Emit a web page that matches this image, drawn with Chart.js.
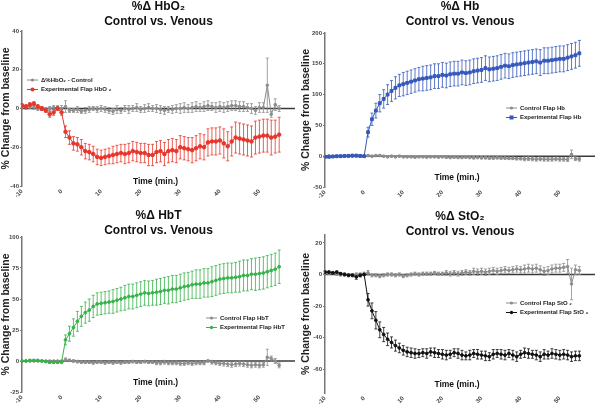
<!DOCTYPE html>
<html>
<head>
<meta charset="utf-8">
<script src="https://cdn.jsdelivr.net/npm/chart.js@4.4.1/dist/chart.umd.min.js"></script>
<style>
  html, body { margin: 0; padding: 0; background: #fff; }
  .wrap { position: relative; width: 600px; height: 409px; }
  .panel { position: absolute; width: 300px; }
</style>
</head>
<body>
<div class="wrap">
  <div class="panel" style="left:0;top:0;height:205px"><canvas id="hbo2"></canvas></div>
  <div class="panel" style="left:300px;top:0;height:205px"><canvas id="hb"></canvas></div>
  <div class="panel" style="left:0;top:205px;height:204px"><canvas id="hbt"></canvas></div>
  <div class="panel" style="left:300px;top:205px;height:204px"><canvas id="sto2"></canvas></div>
</div>
<script>
// time points (min.), one per minute
const minutes = [
  -10, -9, -8, -7, -6, -5, -4, -3, -2, -1, 0,
  1, 2, 3, 4, 5, 6, 7, 8, 9, 10,
  11, 12, 13, 14, 15, 16, 17, 18, 19, 20,
  21, 22, 23, 24, 25, 26, 27, 28, 29, 30,
  31, 32, 33, 34, 35, 36, 37, 38, 39, 40,
  41, 42, 43, 44, 45, 46, 47, 48, 49, 50,
  51, 52, 53, 54, 55
];
const xTicks = [-10, 0, 10, 20, 30, 40, 50];
const hbo2YTicks = [-40, -20, 0, 20, 40];
const hbYTicks = [-50, 0, 50, 100, 150, 200];
const hbtYTicks = [-25, 0, 25, 50, 75, 100];
const sto2YTicks = [-60, -40, -20, 0, 20];

// %Δ HbO2
const hbo2Control = [
  1, 0.5, 1, 0.5, 0, 0, -0.5, 0, 0.5, 0.5, 0,
  1, -1, -1, -0.5, -1.5, -1, -0.5, 0, -0.5, 0,
  -0.5, -1, -1.5, -0.5, -1, 0, -0.5, 0, 0.5, -0.5,
  0, 0.5, 0, 0, -0.5, -1, -0.5, -0.5, 0, 0,
  0.5, 0, 0.5, 1, 0.5, 1, 1.5, 1, 0.5, 1,
  0.5, 1, 1.5, 1.5, 1, 1, 0.5, 0, -1, 0.5,
  0.5, 12, -3, 2, 0
];
const hbo2ControlErr = [
  1, 1, 1, 1, 1, 1, 1, 1, 1, 1, 1.5,
  3, 1, 1, 1.5, 1, 1.5, 1.5, 1, 1.5, 1.5,
  1.5, 1.5, 1.5, 2, 1.5, 1.5, 2, 1.5, 2, 1.5,
  2, 2, 1.5, 2, 2, 2, 1.5, 2, 2, 2.5,
  2.5, 2, 2.5, 2.5, 2, 2.5, 2.5, 2, 2.5, 2.5,
  2.5, 2.5, 2.5, 2.5, 2.5, 2.5, 2, 2.5, 2, 2.5,
  2.5, 14, 1.5, 3, 1.5
];
const hbo2Flap = [
  1.5, 1, 2, 2.5, 1, 0, -1, -3, -2, 0, -2,
  -12, -15, -18, -18.5, -20, -22, -22.5, -23.5, -25, -25.5,
  -25, -24.5, -24, -23.5, -23, -23.5, -23, -22, -22.5, -23,
  -23, -24, -24, -22.5, -22, -23.5, -22, -21.5, -22, -20,
  -20.5, -21, -21.5, -20.5, -19.5, -20, -17.5, -17, -17, -16.5,
  -18, -19.5, -17, -15, -15.5, -16, -16.5, -17, -15, -14.5,
  -14, -14, -15, -14.5, -13.5
];
const hbo2FlapErr = [
  1, 1, 1, 1, 1, 1, 1, 1.5, 1.5, 1, 1.5,
  3, 3.5, 3.5, 3.5, 4, 4, 4, 4, 4, 4,
  4, 4, 4.5, 4.5, 4.5, 5, 5, 5, 5, 5,
  5, 5.5, 5.5, 5.5, 5.5, 6, 6, 6, 6, 6,
  6, 6, 6.5, 6.5, 6.5, 6.5, 7, 7, 7, 7,
  7.5, 7.5, 7.5, 8, 8, 8, 8, 8, 8.5, 8.5,
  8.5, 8.5, 9, 8.5, 9
];

// %Δ Hb
const hbControl = [
  0, 0.5, 0, -0.5, 0, 0, 0.5, 0, 0, 0, 0,
  1, 0, 1, 1, 0, -1, 0, -1, 0, -1,
  -1, -1, -1.5, -1, -1, -1.5, -1, -1, -1.5, -1,
  -1.5, -2, -1.5, -2, -2, -1.5, -2, -2.5, -2, -2.5,
  -2.5, -3, -3, -2.5, -3, -3, -3.5, -3.5, -4, -4,
  -4.5, -4, -4.5, -5, -4.5, -5, -5, -5, -4.5, -5,
  -5, -5.5, 3, -4, -5
];
const hbControlErr = [
  1, 1, 1, 1, 1, 1, 1, 1, 1, 1, 1,
  1.5, 1.5, 1.5, 1.5, 1.5, 1.5, 1.5, 1.5, 1.5, 1.5,
  1.5, 1.5, 1.5, 1.5, 1.5, 1.5, 1.5, 1.5, 1.5, 1.5,
  2, 2, 2, 2, 2, 2, 2, 2, 2, 2,
  2, 2, 2, 2, 2, 2, 2, 2, 2, 2,
  3, 3, 3, 3, 3, 3, 3, 3, 3, 3,
  3, 3, 7, 3, 3
];
const hbFlap = [
  -1, -1, -0.5, 0, 0, 0.5, 0.5, 1, 1, 0.5, 0,
  39, 60, 74, 86, 93, 100, 106, 111, 115, 117,
  119, 121, 123, 125, 126, 127, 128, 130, 130, 132,
  131, 133, 134, 134, 136, 135, 136, 138, 139, 140,
  143, 141, 142, 143, 145, 147, 146, 148, 149, 150,
  151, 152, 153, 154, 152, 155, 155, 156, 157, 158,
  158, 160, 162, 164, 167
];
const hbFlapErr = [
  1, 1, 1, 1, 1, 1, 1, 1, 1, 1, 1,
  8, 10, 12, 14, 15, 16, 17, 18, 18, 19,
  19, 19, 19, 19, 20, 20, 20, 20, 20, 20,
  20, 20, 20, 20, 20, 20, 20, 20, 20, 20,
  20, 20, 20, 20, 20, 20, 20, 20, 20, 20,
  20, 20, 20, 20, 21, 21, 21, 21, 21, 21,
  21, 21, 21, 21, 21
];

// %Δ HbT
const hbtControl = [
  0, 0, 0, 0, 0, 0, 0, 0, 0, 0, 0,
  1, 0.5, 0, -0.5, -1, -1, -1, -1.5, -1, -1,
  -1.5, -1, -1.5, -1, -1.5, -1, -1, -0.5, -1, -1,
  -0.5, -1, -1, -1.5, -1.5, -1, -1.5, -1.5, -1.5, -2,
  -2, -1.5, -2, -1.5, -1.5, -1.5, 0, -1, -1.5, -2,
  -2, -2.5, -3, -2.5, -2, -2.5, -3, -3.5, -3, -3.5,
  -3, 3, 2, 0, -3.5
];
const hbtControlErr = [
  0.5, 0.5, 0.5, 0.5, 0.5, 0.5, 0.5, 0.5, 0.5, 0.5, 0.5,
  1.5, 1, 1, 1, 1, 1, 1, 1, 1, 1,
  1, 1, 1, 1, 1, 1, 1, 1, 1, 1,
  1, 1, 1, 1.5, 1.5, 1.5, 1.5, 1.5, 1.5, 1.5,
  1.5, 1.5, 1.5, 1.5, 1.5, 1.5, 1, 1.5, 1.5, 1.5,
  2, 2, 2, 2, 2, 2, 2, 2, 2, 2,
  2, 6.5, 2, 2, 2
];
const hbtFlap = [
  0, 0, 0.5, 0.5, 0.5, 0, -0.5, -1, -1, -1, -1,
  17, 22, 27, 32, 36, 39, 41, 44, 46, 46.5,
  47, 47.5, 48, 49, 50, 51, 52, 52, 53, 54,
  55, 54.5, 55, 55.5, 56, 57, 57, 58, 58, 59,
  60, 60.5, 61.5, 62, 62, 63, 63, 64, 65, 66,
  66.5, 67, 67, 67.5, 68, 69, 69, 70, 70, 70.5,
  71, 72, 73, 74, 76
];
const hbtFlapErr = [
  0.5, 0.5, 0.5, 0.5, 0.5, 0.5, 0.5, 1, 1, 1, 0.5,
  4, 6, 7, 8, 8, 8.5, 9, 9, 9, 9,
  9, 9, 9.5, 9.5, 9.5, 10, 10, 10, 10, 10,
  10, 10, 10, 10.5, 10.5, 10.5, 11, 11, 11, 11,
  11, 11, 11, 11.5, 11.5, 11.5, 11.5, 12, 12, 12,
  12, 12, 12, 12, 12.5, 12.5, 12.5, 12.5, 13, 13,
  13, 13, 13, 13, 13.5
];

// %Δ StO2
const sto2Control = [
  1, 1, 1, 0.5, 0, 0, -0.5, -0.5, 0, 0, 0.5,
  1, -0.5, -0.5, -1, -0.5, 0, 0, -0.5, 0, -1,
  -0.5, 0, 0.5, 0, 0.5, 0.5, 0.5, 1, 0.5, 0.5,
  1, 0.5, 1, 0.5, 1, 1.5, 1, 2, 1.5, 2,
  1.5, 2, 2.5, 2, 2.5, 3, 2.5, 3, 3.5, 3,
  3.5, 4, 3.5, 4, 3, 2, 2.5, 3.5, 4, 4,
  4.5, 5, -6, 3, 2.5
];
const sto2ControlErr = [
  1, 1, 1, 1, 1, 1, 1, 1, 1, 1, 1,
  1.5, 1, 1, 1, 1, 1, 1, 1, 1, 1,
  1, 1, 1, 1, 1, 1, 1, 1, 1, 1,
  1.5, 1.5, 1.5, 1.5, 1.5, 1.5, 1.5, 2, 2, 2,
  2, 2, 2, 2, 2, 2, 2, 2, 2, 2,
  2.5, 2.5, 2.5, 2.5, 2.5, 2.5, 2.5, 2.5, 2.5, 2.5,
  2.5, 4.5, 10, 3, 2.5
];
const sto2Flap = [
  1.5, 1.5, 1, 1.5, 0.5, 0, -0.5, -0.5, -1.5, -0.5, 0,
  -16, -23, -29, -35, -38, -41, -43, -45, -46.5, -48,
  -49, -49.5, -50, -50, -49.5, -50, -49, -49.5, -50, -50.5,
  -51, -50.5, -49.5, -50, -51, -51.5, -51, -50, -50.5, -51,
  -51.5, -52, -50.5, -50, -50.5, -51, -50, -51, -52, -50.5,
  -49.5, -50, -50.5, -51, -52, -50.5, -51, -50, -50.5, -51,
  -50.5, -51, -52, -51.5, -51.5
];
const sto2FlapErr = [
  0.7, 0.7, 0.7, 0.7, 0.7, 0.7, 0.7, 0.7, 1.5, 1, 0.7,
  4, 5, 5.5, 5, 4.5, 4, 3.5, 3.5, 3, 3,
  3, 3, 3, 2.5, 2.5, 3, 2.5, 3, 2.5, 3,
  3, 2.5, 2.5, 3, 3, 2.5, 3, 2.5, 3, 2.5,
  3, 2.5, 3, 2.5, 3, 3, 2.5, 3, 3, 2.5,
  3, 3, 2.5, 3, 3, 3, 2.5, 3, 3, 3,
  3, 3, 3, 3, 3
];

const FONT = '"Liberation Sans", Arial, sans-serif';
const GREY = "#8c8c8c";

// zero line, error bars, titles and legend
const panelDeco = {
  id: "panelDeco",
  beforeDatasetsDraw(chart) {
    const { ctx, chartArea: a, scales } = chart;
    const y = scales.y;
    const y0 = y.getPixelForValue(0);
    ctx.save();
    ctx.strokeStyle = "#3a3a3a";
    ctx.lineWidth = 1.5;
    ctx.beginPath();
    ctx.moveTo(a.left, y0);
    ctx.lineTo(a.right, y0);
    ctx.stroke();
    chart.data.datasets.forEach((ds, di) => {
      const meta = chart.getDatasetMeta(di);
      ctx.strokeStyle = ds.borderColor;
      ctx.lineWidth = 0.8;
      meta.data.forEach((pt, i) => {
        const v = ds.data[i].y;
        const e = ds.errors[i];
        const yt = y.getPixelForValue(v + e);
        const yb = y.getPixelForValue(v - e);
        ctx.beginPath();
        ctx.moveTo(pt.x, yt);
        ctx.lineTo(pt.x, yb);
        ctx.moveTo(pt.x - 1.5, yt);
        ctx.lineTo(pt.x + 1.5, yt);
        ctx.moveTo(pt.x - 1.5, yb);
        ctx.lineTo(pt.x + 1.5, yb);
        ctx.stroke();
      });
    });
    ctx.restore();
  },
  afterDraw(chart, args, o) {
    const { ctx, chartArea: a } = chart;
    const cx = (a.left + a.right) / 2;
    ctx.save();
    ctx.fillStyle = "#111";
    ctx.textAlign = "center";
    ctx.textBaseline = "middle";
    ctx.font = "bold 12px " + FONT;
    ctx.fillText(o.title, cx, o.titleY);
    ctx.fillText("Control vs. Venous", cx, o.titleY + 15);
    ctx.font = "bold 8.5px " + FONT;
    ctx.fillText("Time (min.)", cx - 3, o.timeY);

    // legend
    ctx.textAlign = "left";
    ctx.font = "bold 6px " + FONT;
    chart.data.datasets.forEach((ds, i) => {
      const ly = o.legendY + i * 9.5;
      ctx.strokeStyle = ds.borderColor;
      ctx.fillStyle = ds.borderColor;
      ctx.lineWidth = 1;
      ctx.beginPath();
      ctx.moveTo(o.legendX, ly);
      ctx.lineTo(o.legendX + 11, ly);
      ctx.stroke();
      ctx.beginPath();
      if (ds.pointStyle === "rect") {
        ctx.fillRect(o.legendX + 3.5, ly - 2, 4, 4);
      } else {
        ctx.arc(o.legendX + 5.5, ly, ds.pointRadius + 0.3, 0, Math.PI * 2);
        ctx.fill();
      }
      ctx.fillStyle = "#222";
      ctx.fillText(ds.label, o.legendX + 14, ly);
    });
    ctx.restore();
  },
};

function fixedTicks(list) {
  return (axis) => {
    axis.ticks = list.map((v) => ({ value: v }));
  };
}

function makePanel(id, p) {
  const pts = (vals) => minutes.map((t, i) => ({ x: t, y: vals[i] }));
  new Chart(document.getElementById(id), {
    type: "line",
    data: {
      datasets: [
        {
          label: p.controlLabel,
          data: pts(p.control),
          errors: p.controlErr,
          borderColor: GREY,
          backgroundColor: GREY,
          borderWidth: 1,
          pointRadius: 1.3,
          pointStyle: "circle",
          order: 2,
        },
        {
          label: p.flapLabel,
          data: pts(p.flap),
          errors: p.flapErr,
          borderColor: p.color,
          backgroundColor: p.color,
          borderWidth: 1,
          pointRadius: p.pointRadius,
          pointStyle: p.pointStyle,
          order: 1,
        },
      ],
    },
    options: {
      responsive: true,
      maintainAspectRatio: false,
      animation: false,
      events: [],
      layout: { padding: { top: p.top, right: 3, left: 0, bottom: 0 } },
      plugins: {
        legend: { display: false },
        tooltip: { enabled: false },
        panelDeco: {
          title: p.title,
          titleY: p.titleY,
          timeY: p.timeY,
          legendX: p.legendX,
          legendY: p.legendY,
        },
      },
      scales: {
        x: {
          type: "linear",
          min: -10,
          max: 59,
          afterBuildTicks: fixedTicks(xTicks),
          afterFit: (s) => {
            s.height = p.xHeight;
          },
          ticks: {
            minRotation: 45,
            maxRotation: 45,
            padding: 2,
            color: "#444",
            font: { family: FONT, size: 6, weight: "bold" },
          },
          grid: { display: false, drawTicks: false },
          border: { display: false },
        },
        y: {
          min: p.yMin,
          max: p.yMax,
          afterBuildTicks: fixedTicks(p.yTicks),
          afterFit: (s) => {
            s.width = p.yWidth;
          },
          ticks: {
            padding: 1,
            color: "#444",
            font: { family: FONT, size: 6, weight: "bold" },
          },
          grid: {
            drawOnChartArea: false,
            tickLength: 2,
            color: "#777",
          },
          border: { color: "#777", width: 1.5 },
          title: {
            display: true,
            text: "% Change from baseline",
            color: "#222",
            padding: 0,
            font: { family: FONT, size: 10.5, weight: "bold" },
          },
        },
      },
    },
    plugins: [panelDeco],
  });
}

makePanel("hbo2", {
  title: "%Δ HbO₂",
  control: hbo2Control, controlErr: hbo2ControlErr,
  flap: hbo2Flap, flapErr: hbo2FlapErr,
  controlLabel: "Δ%HbO₂ - Control",
  flapLabel: "Experimental Flap HbO ₂",
  color: "#e8352b", pointStyle: "circle", pointRadius: 1.8,
  yMin: -40, yMax: 40, yTicks: hbo2YTicks,
  top: 31, xHeight: 19, yWidth: 22,
  titleY: 7, timeY: 182, legendX: 27, legendY: 80,
});

makePanel("hb", {
  title: "%Δ Hb",
  control: hbControl, controlErr: hbControlErr,
  flap: hbFlap, flapErr: hbFlapErr,
  controlLabel: "Control Flap Hb",
  flapLabel: "Experimental Flap Hb",
  color: "#3558bd", pointStyle: "rect", pointRadius: 2,
  yMin: -50, yMax: 200, yTicks: hbYTicks,
  top: 33, xHeight: 18, yWidth: 25,
  titleY: 7, timeY: 178, legendX: 206, legendY: 108,
});

makePanel("hbt", {
  title: "%Δ HbT",
  control: hbtControl, controlErr: hbtControlErr,
  flap: hbtFlap, flapErr: hbtFlapErr,
  controlLabel: "Control Flap HbT",
  flapLabel: "Experimental Flap HbT",
  color: "#36b24a", pointStyle: "circle", pointRadius: 1.4,
  yMin: -25, yMax: 100, yTicks: hbtYTicks,
  top: 32, xHeight: 17, yWidth: 22,
  titleY: 11, timeY: 178, legendX: 206, legendY: 113,
});

makePanel("sto2", {
  title: "%Δ StO₂",
  control: sto2Control, controlErr: sto2ControlErr,
  flap: sto2Flap, flapErr: sto2FlapErr,
  controlLabel: "Control Flap StO ₂",
  flapLabel: "Experimental Flap StO ₂",
  color: "#111111", pointStyle: "circle", pointRadius: 1.4,
  yMin: -75, yMax: 25, yTicks: sto2YTicks,
  top: 30, xHeight: 16, yWidth: 25,
  titleY: 12, timeY: 180, legendX: 206, legendY: 98,
});
</script>
</body>
</html>
